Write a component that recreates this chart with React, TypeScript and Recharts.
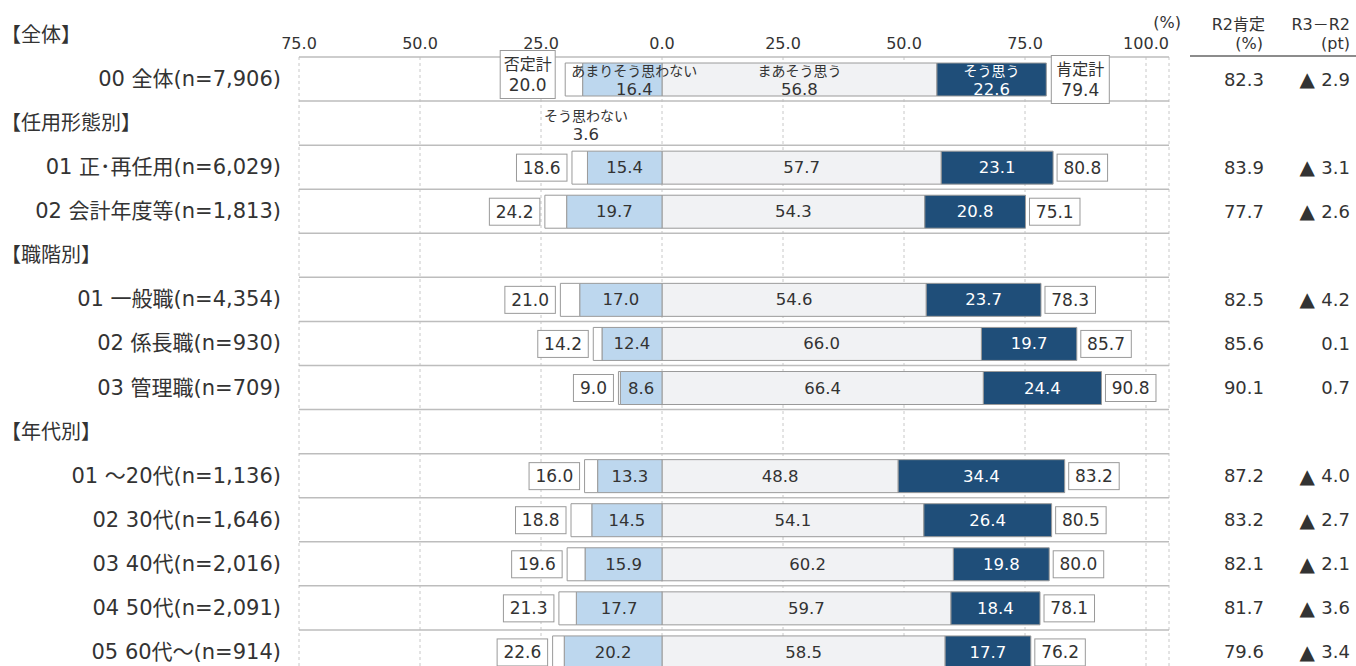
import React from "react";
import { Bar, BarChart, CartesianGrid, LabelList, XAxis, YAxis } from "recharts";

// rows top to bottom; the 【...】 rows are section headers with no bars
const categories = [
  "00 全体(n=7,906)",
  "【任用形態別】",
  "01 正･再任用(n=6,029)",
  "02 会計年度等(n=1,813)",
  "【職階別】",
  "01 一般職(n=4,354)",
  "02 係長職(n=930)",
  "03 管理職(n=709)",
  "【年代別】",
  "01 ～20代(n=1,136)",
  "02 30代(n=1,646)",
  "03 40代(n=2,016)",
  "04 50代(n=2,091)",
  "05 60代～(n=914)",
];

const seriesNames = ["そう思わない", "あまりそう思わない", "まあそう思う", "そう思う"];

const strongDisagree = [3.6, null, 3.2, 4.5, null, 4.0, 1.8, 0.4, null, 2.7, 4.3, 3.7, 3.6, 2.4];
const disagree = [16.4, null, 15.4, 19.7, null, 17.0, 12.4, 8.6, null, 13.3, 14.5, 15.9, 17.7, 20.2];
const agree = [56.8, null, 57.7, 54.3, null, 54.6, 66.0, 66.4, null, 48.8, 54.1, 60.2, 59.7, 58.5];
const strongAgree = [22.6, null, 23.1, 20.8, null, 23.7, 19.7, 24.4, null, 34.4, 26.4, 19.8, 18.4, 17.7];
const negativeTotal = [20.0, null, 18.6, 24.2, null, 21.0, 14.2, 9.0, null, 16.0, 18.8, 19.6, 21.3, 22.6];
const positiveTotal = [79.4, null, 80.8, 75.1, null, 78.3, 85.7, 90.8, null, 83.2, 80.5, 80.0, 78.1, 76.2];
const r2Positive = [82.3, null, 83.9, 77.7, null, 82.5, 85.6, 90.1, null, 87.2, 83.2, 82.1, 81.7, 79.6];
const diffFromR2 = [-2.9, null, -3.1, -2.6, null, -4.2, 0.1, 0.7, null, -4.0, -2.7, -2.1, -3.6, -3.4];

const xTicks = [-75, -50, -25, 0, 25, 50, 75, 100];

const FONT = '"DejaVu Sans", "Noto Sans CJK JP", sans-serif';
const TEXT = "#333333";
const BORDER = "#9a9a9a";

const neg = (v: number | null) => (v == null ? null : -v);

const rows = categories.map((name, i) => ({
  name,
  sd: neg(strongDisagree[i]),
  d: neg(disagree[i]),
  a: agree[i],
  sa: strongAgree[i],
  negTotal: negativeTotal[i],
  posTotal: positiveTotal[i],
}));

function rectOf(props: any) {
  const vb = props.viewBox ?? props;
  const x = Number(vb.x);
  const w = Number(vb.width);
  const left = Math.min(x, x + w);
  const right = Math.max(x, x + w);
  return { left, right, cx: (left + right) / 2, cy: Number(vb.y) + Number(vb.height) / 2 };
}

const isEmpty = (v: any) => v == null || Number.isNaN(Number(v));

function segmentLabel(title: string, color: string, dx = 0, below = false) {
  return (props: any) => {
    const { value, index } = props;
    if (isEmpty(value)) return null;
    const { cx, cy } = rectOf(props);
    const txt = Math.abs(Number(value)).toFixed(1);
    if (index === 0) {
      const t = below ? cy + 36 : cy - 9;
      const v = below ? cy + 55 : cy + 10;
      return (
        <g fontFamily={FONT} fill={color}>
          <text x={cx + dx} y={t} textAnchor="middle" dominantBaseline="central" fontSize={14}>
            {title}
          </text>
          <text x={cx + dx} y={v} textAnchor="middle" dominantBaseline="central" fontSize={16.5}>
            {txt}
          </text>
        </g>
      );
    }
    if (below) return null;
    return (
      <text x={cx} y={cy} textAnchor="middle" dominantBaseline="central" fontSize={16.5} fontFamily={FONT} fill={color}>
        {txt}
      </text>
    );
  };
}

function totalBox(side: "neg" | "pos") {
  return (props: any) => {
    const { value, index } = props;
    if (isEmpty(value)) return null;
    const { left, right, cy } = rectOf(props);
    const txt = Number(value).toFixed(1);
    if (index === 0) {
      const w = side === "neg" ? 55 : 58;
      const bx = side === "neg" ? left - 10 - w : right + 5;
      const by = side === "neg" ? cy - 29 : cy - 24;
      return (
        <g fontFamily={FONT} fill={TEXT}>
          <rect x={bx} y={by} width={w} height={48} fill="#fff" stroke={BORDER} strokeWidth={1} />
          <text x={bx + w / 2} y={by + 14} textAnchor="middle" dominantBaseline="central" fontSize={16}>
            {side === "neg" ? "否定計" : "肯定計"}
          </text>
          <text x={bx + w / 2} y={by + 34} textAnchor="middle" dominantBaseline="central" fontSize={17}>
            {txt}
          </text>
        </g>
      );
    }
    const digits = txt.replace(".", "").length;
    const w = digits * 10.5 + 19;
    const bx = side === "neg" ? left - 5 - w : right + 4;
    return (
      <g fontFamily={FONT} fill={TEXT}>
        <rect x={bx} y={cy - 13.5} width={w} height={27} fill="#fff" stroke={BORDER} strokeWidth={1} />
        <text x={bx + w / 2} y={cy} textAnchor="middle" dominantBaseline="central" fontSize={17}>
          {txt}
        </text>
      </g>
    );
  };
}

function LeftTick(props: any) {
  const { x, y, payload } = props;
  const name = String(payload.value);
  if (name.startsWith("【")) {
    return (
      <text x={1} y={y} dominantBaseline="central" fontSize={20} fontFamily={FONT} fill={TEXT}>
        {name}
      </text>
    );
  }
  return (
    <text x={x - 10} y={y} textAnchor="end" dominantBaseline="central" fontSize={21} fontFamily={FONT} fill={TEXT}>
      {name}
    </text>
  );
}

function RightTick(props: any) {
  const { x, y, payload } = props;
  const i = categories.indexOf(String(payload.value));
  const r2 = r2Positive[i];
  const diff = diffFromR2[i];
  if (r2 == null || diff == null) return null;
  return (
    <g fontFamily={FONT} fill={TEXT} fontSize={18}>
      <text x={x + 87} y={y} textAnchor="end" dominantBaseline="central">
        {r2.toFixed(1)}
      </text>
      <text x={x + 173} y={y} textAnchor="end" dominantBaseline="central">
        {diff < 0 ? <tspan fontSize={20}>▲ </tspan> : null}
        {Math.abs(diff).toFixed(1)}
      </text>
    </g>
  );
}

export default function App() {
  return (
    <div
      style={{
        position: "absolute",
        left: 0,
        top: 0,
        width: 1356,
        height: 666,
        overflow: "hidden",
        background: "#fff",
      }}
    >
      <BarChart
        width={1356}
        height={675}
        data={rows}
        layout="vertical"
        stackOffset="sign"
        barSize={33}
        margin={{ top: 0, right: 0, bottom: 1, left: 0 }}
      >
        <CartesianGrid horizontal={false} stroke="#c8c8c8" strokeDasharray="3 3" />
        <CartesianGrid
          vertical={false}
          stroke="#bdbdbd"
          strokeWidth={1.5}
          horizontalCoordinatesGenerator={({ offset }: any) =>
            categories
              .map((_, i) => offset.top + (i * offset.height) / categories.length)
              .concat(offset.top + offset.height)
          }
        />
        <XAxis
          type="number"
          orientation="top"
          domain={[-75, 104.75]}
          allowDataOverflow
          ticks={xTicks}
          interval={0}
          height={57}
          axisLine={false}
          tickLine={false}
          tick={{ fontSize: 16, fill: TEXT, fontFamily: FONT }}
          tickFormatter={(v: number) => Math.abs(v).toFixed(1)}
        />
        <YAxis type="category" dataKey="name" width={299} interval={0} axisLine={false} tickLine={false} tick={<LeftTick />} />
        <YAxis
          yAxisId="right"
          orientation="right"
          type="category"
          dataKey="name"
          width={187}
          interval={0}
          axisLine={false}
          tickLine={false}
          tick={<RightTick />}
        />
        <Bar dataKey="a" name={seriesNames[2]} stackId="s" fill="#f1f2f4" stroke={BORDER} strokeWidth={1} isAnimationActive={false}>
          <LabelList dataKey="a" content={segmentLabel(seriesNames[2], TEXT)} />
        </Bar>
        <Bar dataKey="sa" name={seriesNames[3]} stackId="s" fill="#1f4e79" stroke={BORDER} strokeWidth={1} isAnimationActive={false}>
          <LabelList dataKey="sa" content={segmentLabel(seriesNames[3], "#ffffff")} />
          <LabelList dataKey="posTotal" content={totalBox("pos")} />
        </Bar>
        <Bar dataKey="d" name={seriesNames[1]} stackId="s" fill="#bdd7ee" stroke={BORDER} strokeWidth={1} isAnimationActive={false}>
          <LabelList dataKey="d" content={segmentLabel(seriesNames[1], TEXT, 12)} />
        </Bar>
        <Bar dataKey="sd" name={seriesNames[0]} stackId="s" fill="#ffffff" stroke={BORDER} strokeWidth={1} isAnimationActive={false}>
          <LabelList dataKey="sd" content={segmentLabel(seriesNames[0], TEXT, 12, true)} />
          <LabelList dataKey="negTotal" content={totalBox("neg")} />
        </Bar>
      </BarChart>
      <svg
        width={1356}
        height={666}
        style={{ position: "absolute", left: 0, top: 0, pointerEvents: "none" }}
        fontFamily={FONT}
        fill={TEXT}
      >
        <text x={1} y={35} dominantBaseline="central" fontSize={20}>
          【全体】
        </text>
        <text x={1181} y={22} textAnchor="end" dominantBaseline="central" fontSize={16}>
          (%)
        </text>
        <text x={1265} y={24} textAnchor="end" dominantBaseline="central" fontSize={16}>
          R2肯定
        </text>
        <text x={1263} y={43} textAnchor="end" dominantBaseline="central" fontSize={16}>
          (%)
        </text>
        <text x={1350} y={24} textAnchor="end" dominantBaseline="central" fontSize={16}>
          R3－R2
        </text>
        <text x={1350} y={43} textAnchor="end" dominantBaseline="central" fontSize={16}>
          (pt)
        </text>
        <line x1={1190} x2={1356} y1={56} y2={56} stroke="#8c8c8c" strokeWidth={2} />
      </svg>
    </div>
  );
}
